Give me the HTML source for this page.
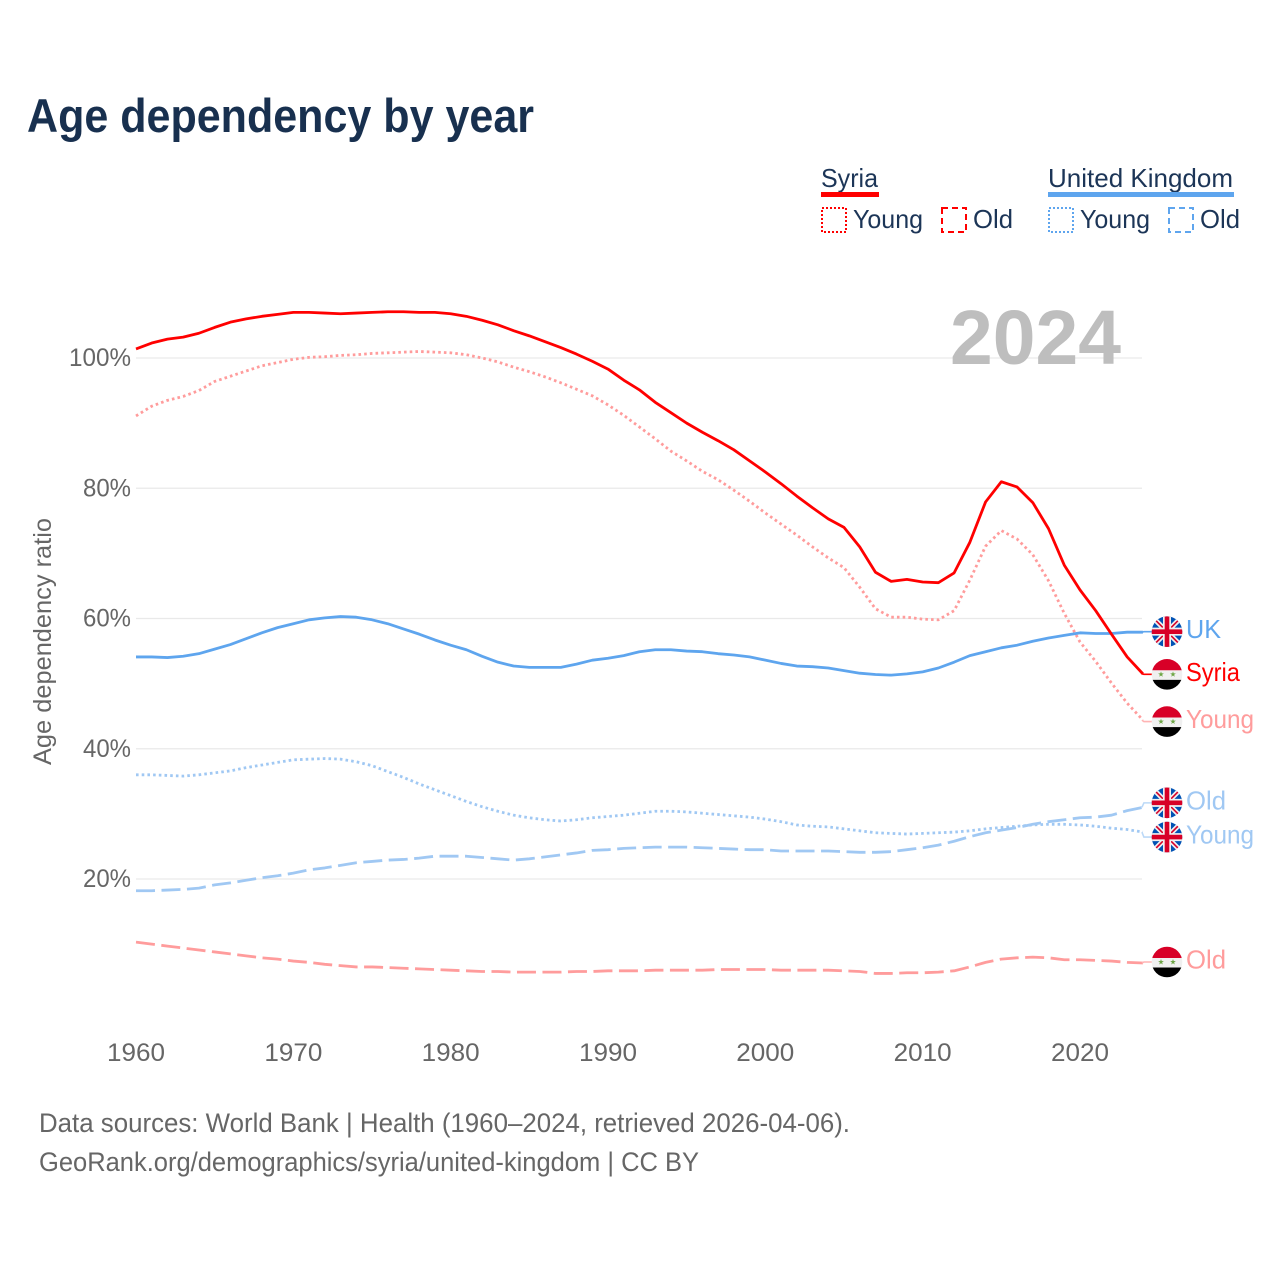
<!DOCTYPE html>
<html lang="en">
<head>
<meta charset="utf-8">
<title>Age dependency by year</title>
<style>
html,body{margin:0;padding:0;background:#fff;}
svg{display:block;font-family:"Liberation Sans",sans-serif;}
</style>
</head>
<body>
<svg id="chart" xmlns="http://www.w3.org/2000/svg" width="1280" height="1280" viewBox="0 0 1280 1280">
  <defs>
    <clipPath id="flag-clip"><circle cx="0" cy="0" r="15.3"/></clipPath>
    <symbol id="flag-uk" viewBox="-16 -16 32 32" overflow="visible">
      <g clip-path="url(#flag-clip)">
        <rect x="-16" y="-16" width="32" height="32" fill="#0052b4"/>
        <path d="M-15-15L15 15M15-15L-15 15" stroke="#f0f0f0" stroke-width="5"/>
        <path d="M-15-15L15 15M15-15L-15 15" stroke="#d80027" stroke-width="1.6"/>
        <path d="M0-16V16M-16 0H16" stroke="#f0f0f0" stroke-width="8"/>
        <path d="M0-16V16M-16 0H16" stroke="#d80027" stroke-width="4.6"/>
      </g>
    </symbol>
    <symbol id="flag-syria" viewBox="-16 -16 32 32" overflow="visible">
      <g clip-path="url(#flag-clip)">
        <rect x="-16" y="-16" width="32" height="12" fill="#d80027"/>
        <rect x="-16" y="-4" width="32" height="9.5" fill="#f0f0f0"/>
        <rect x="-16" y="5.5" width="32" height="11" fill="#000"/>
        <polygon transform="translate(-6 0)" fill="#6da544" points="0,-3 .7,-.97 2.85,-.93 1.13,.37 1.76,2.43 0,1.2 -1.76,2.43 -1.13,.37 -2.85,-.93 -.7,-.97"/>
        <polygon transform="translate(6 0)" fill="#6da544" points="0,-3 .7,-.97 2.85,-.93 1.13,.37 1.76,2.43 0,1.2 -1.76,2.43 -1.13,.37 -2.85,-.93 -.7,-.97"/>
      </g>
    </symbol>
  </defs>

  <text x="27" y="132" font-size="47" font-weight="700" fill="#18304f" textLength="507" lengthAdjust="spacingAndGlyphs">Age dependency by year</text>

  <g font-size="26" fill="#1c3557">
    <g>
      <text x="821" y="187" textLength="57" lengthAdjust="spacingAndGlyphs">Syria</text>
      <rect x="821" y="192" width="58" height="5" fill="#ff0000"/>
      <rect x="822" y="208" width="24" height="24" fill="none" stroke="#ff0000" stroke-width="2" stroke-dasharray="2 2"/>
      <text x="853" y="228" textLength="70" lengthAdjust="spacingAndGlyphs">Young</text>
      <rect x="942" y="208" width="24" height="24" fill="none" stroke="#ff0000" stroke-width="2" stroke-dasharray="6 4"/>
      <text x="973" y="228" textLength="40" lengthAdjust="spacingAndGlyphs">Old</text>
    </g>
    <g>
      <text x="1048" y="187" textLength="185" lengthAdjust="spacingAndGlyphs">United Kingdom</text>
      <rect x="1048" y="192" width="186" height="5" fill="#5ea5ee"/>
      <rect x="1049" y="208" width="24" height="24" fill="none" stroke="#5ea5ee" stroke-width="2" stroke-dasharray="2 2"/>
      <text x="1080" y="228" textLength="70" lengthAdjust="spacingAndGlyphs">Young</text>
      <rect x="1169" y="208" width="24" height="24" fill="none" stroke="#5ea5ee" stroke-width="2" stroke-dasharray="6 4"/>
      <text x="1200" y="228" textLength="40" lengthAdjust="spacingAndGlyphs">Old</text>
    </g>
  </g>

  <text transform="translate(51 765) rotate(-90)" font-size="25" fill="#666" textLength="247" lengthAdjust="spacingAndGlyphs">Age dependency ratio</text>

  <g id="grid"></g>
  <g id="y-ticks" font-size="25" fill="#666"></g>
  <g id="x-ticks" font-size="25" fill="#666"></g>
  <text id="year-label" x="950" y="364" font-size="77" font-weight="700" fill="#bebebe" textLength="171" lengthAdjust="spacingAndGlyphs"></text>
  <g id="series"></g>
  <g id="end-labels"></g>

  <g font-size="27" fill="#666">
    <text x="39" y="1132" textLength="811" lengthAdjust="spacingAndGlyphs">Data sources: World Bank | Health (1960–2024, retrieved 2026-04-06).</text>
    <text x="39" y="1171" textLength="660" lengthAdjust="spacingAndGlyphs">GeoRank.org/demographics/syria/united-kingdom | CC BY</text>
  </g>
</svg>

<script>
const firstYear = 1960;
const xTickYears = [1960, 1970, 1980, 1990, 2000, 2010, 2020];
const yTickValues = [20, 40, 60, 80, 100];

const syriaTotal = [101.4,102.3,102.9,103.2,103.8,104.7,105.5,106.0,106.4,106.7,107.0,107.0,106.9,106.8,106.9,107.0,107.1,107.1,107.0,107.0,106.8,106.4,105.8,105.1,104.2,103.4,102.5,101.6,100.6,99.5,98.3,96.6,95.1,93.2,91.6,90.0,88.6,87.3,85.9,84.2,82.5,80.7,78.8,77.0,75.3,74.0,71.0,67.1,65.7,66.0,65.6,65.5,67.0,71.7,77.9,81.0,80.2,77.8,73.8,68.2,64.4,61.2,57.6,54.1,51.5];
const syriaYoung = [91.1,92.6,93.5,94.1,95.0,96.4,97.2,98.0,98.8,99.3,99.8,100.1,100.2,100.4,100.5,100.7,100.8,100.9,101.0,100.9,100.8,100.5,100.0,99.4,98.6,97.9,97.1,96.2,95.2,94.2,92.8,91.2,89.4,87.6,85.7,84.2,82.6,81.3,79.7,78.0,76.2,74.5,72.8,71.0,69.3,67.8,64.8,61.5,60.2,60.2,59.9,59.8,61.2,65.9,71.1,73.5,72.2,69.8,65.8,60.8,56.4,53.4,50.1,47.0,44.4];
const syriaOld = [10.3,10.0,9.7,9.4,9.1,8.8,8.5,8.2,7.9,7.7,7.4,7.2,6.9,6.7,6.5,6.5,6.4,6.3,6.2,6.1,6.0,5.9,5.8,5.8,5.7,5.7,5.7,5.7,5.8,5.8,5.9,5.9,5.9,6.0,6.0,6.0,6.0,6.1,6.1,6.1,6.1,6.0,6.0,6.0,6.0,5.9,5.8,5.5,5.5,5.6,5.6,5.7,5.9,6.5,7.2,7.7,7.9,8.0,7.9,7.6,7.6,7.5,7.4,7.2,7.1];
const ukTotal = [54.1,54.1,54.0,54.2,54.6,55.3,56.0,56.9,57.8,58.6,59.2,59.8,60.1,60.3,60.2,59.8,59.2,58.4,57.6,56.7,55.9,55.2,54.2,53.3,52.7,52.5,52.5,52.5,53.0,53.6,53.9,54.3,54.9,55.2,55.2,55.0,54.9,54.6,54.4,54.1,53.6,53.1,52.7,52.6,52.4,52.0,51.6,51.4,51.3,51.5,51.8,52.4,53.3,54.3,54.9,55.5,55.9,56.5,57.0,57.4,57.8,57.7,57.7,57.9,57.9];
const ukYoung = [36.0,36.0,35.9,35.8,36.0,36.3,36.6,37.1,37.5,37.9,38.3,38.4,38.5,38.4,38.0,37.4,36.5,35.6,34.6,33.7,32.8,31.9,31.1,30.4,29.8,29.4,29.1,28.9,29.1,29.4,29.6,29.8,30.1,30.4,30.4,30.3,30.1,29.9,29.7,29.5,29.2,28.8,28.3,28.1,28.0,27.7,27.4,27.1,27.0,26.9,27.0,27.1,27.2,27.4,27.7,27.9,28.1,28.3,28.4,28.4,28.3,28.1,27.8,27.6,27.2];
const ukOld = [18.2,18.2,18.3,18.4,18.6,19.1,19.4,19.8,20.2,20.5,20.9,21.4,21.7,22.1,22.5,22.7,22.9,23.0,23.2,23.5,23.5,23.5,23.3,23.1,22.9,23.1,23.4,23.7,24.0,24.4,24.5,24.7,24.8,24.9,24.9,24.9,24.8,24.7,24.6,24.5,24.5,24.3,24.3,24.3,24.3,24.2,24.1,24.1,24.2,24.5,24.8,25.2,25.8,26.5,27.1,27.5,27.9,28.4,28.8,29.1,29.4,29.5,29.8,30.5,31.0];

const NS = 'http://www.w3.org/2000/svg';
function xScale(year) { return 136 + (year - 1960) * 15.733; }
function yScale(value) { return 1009.25 - value * 6.5125; }
function make(parent, tag, attrs, text) {
  const el = document.createElementNS(NS, tag);
  for (const k in attrs) el.setAttribute(k, attrs[k]);
  if (text !== undefined) el.textContent = text;
  parent.appendChild(el);
  return el;
}

const gridGroup = document.getElementById('grid');
const yGroup = document.getElementById('y-ticks');
yTickValues.forEach(function (v) {
  const line = make(gridGroup, 'line', { x1: 136, x2: 1142, y1: yScale(v), y2: yScale(v), stroke: '#e9e9e9', 'stroke-width': 1.3 });
  
  
  const label = v + '%';
  const width = label.length === 4 ? 62 : 48;
  const t = make(yGroup, 'text', { x: 131 - width, y: yScale(v) + 8, textLength: width, lengthAdjust: 'spacingAndGlyphs' }, label);
  
  
});

const xGroup = document.getElementById('x-ticks');
xTickYears.forEach(function (yr) {
  const t = make(xGroup, 'text', { x: xScale(yr) - 29, y: 1061, textLength: 58, lengthAdjust: 'spacingAndGlyphs' }, String(yr));
  
  
});

const lastYear = firstYear + syriaTotal.length - 1;
document.getElementById('year-label').textContent = String(lastYear);

const seriesList = [
  { id: 'uk-young', values: ukYoung, color: '#a0c8f3', leader: '#bcd9f7', dash: '2.6 3.1', flag: 'flag-uk', label: 'Young', labelWidth: 68, nudge: 5 },
  { id: 'uk-old', values: ukOld, color: '#a0c8f3', leader: '#bcd9f7', dash: '19 6.5', flag: 'flag-uk', label: 'Old', labelWidth: 40, nudge: -4.5 },
  { id: 'syria-young', values: syriaYoung, color: '#ff9c9c', leader: '#ffb4b4', dash: '2.6 3.1', flag: 'flag-syria', label: 'Young', labelWidth: 68, nudge: 1.5 },
  { id: 'syria-old', values: syriaOld, color: '#ff9c9c', leader: '#ffb4b4', dash: '19 6.5', flag: 'flag-syria', label: 'Old', labelWidth: 40, nudge: -1 },
  { id: 'uk-total', values: ukTotal, color: '#5ea5ee', leader: '#5ea5ee', dash: '', flag: 'flag-uk', label: 'UK', labelWidth: 35, nudge: -0.5 },
  { id: 'syria-total', values: syriaTotal, color: '#ff0000', leader: '#ff0000', dash: '', flag: 'flag-syria', label: 'Syria', labelWidth: 54, nudge: 0.5 }
];

const seriesGroup = document.getElementById('series');
const labelGroup = document.getElementById('end-labels');
seriesList.forEach(function (s) {
  const pts = s.values.map(function (v, i) {
    return xScale(firstYear + i).toFixed(2) + ',' + yScale(v).toFixed(2);
  }).join(' ');
  const attrs = { points: pts, fill: 'none', stroke: s.color, 'stroke-width': 2.8, 'stroke-linejoin': 'round' };
  if (s.dash) attrs['stroke-dasharray'] = s.dash;
  const line = make(seriesGroup, 'polyline', attrs);
  
  

  const endX = xScale(lastYear);
  const endY = yScale(s.values[s.values.length - 1]);
  const flagY = endY + s.nudge;
  const leader = make(seriesGroup, 'polyline', {
    points: (endX - 1) + ',' + endY + ' ' + (endX + 1) + ',' + flagY + ' 1154,' + flagY,
    fill: 'none', stroke: s.leader, 'stroke-width': 1.6
  });
  
  

  const flag = make(labelGroup, 'use', { href: '#' + s.flag, x: 1167 - 16, y: flagY - 16, width: 32, height: 32 });
  
  

  const text = make(labelGroup, 'text', {
    x: 1186, y: flagY + 6.5, 'font-size': 26, fill: s.color,
    textLength: s.labelWidth, lengthAdjust: 'spacingAndGlyphs'
  }, s.label);
  
  
});
</script>
</body>
</html>
